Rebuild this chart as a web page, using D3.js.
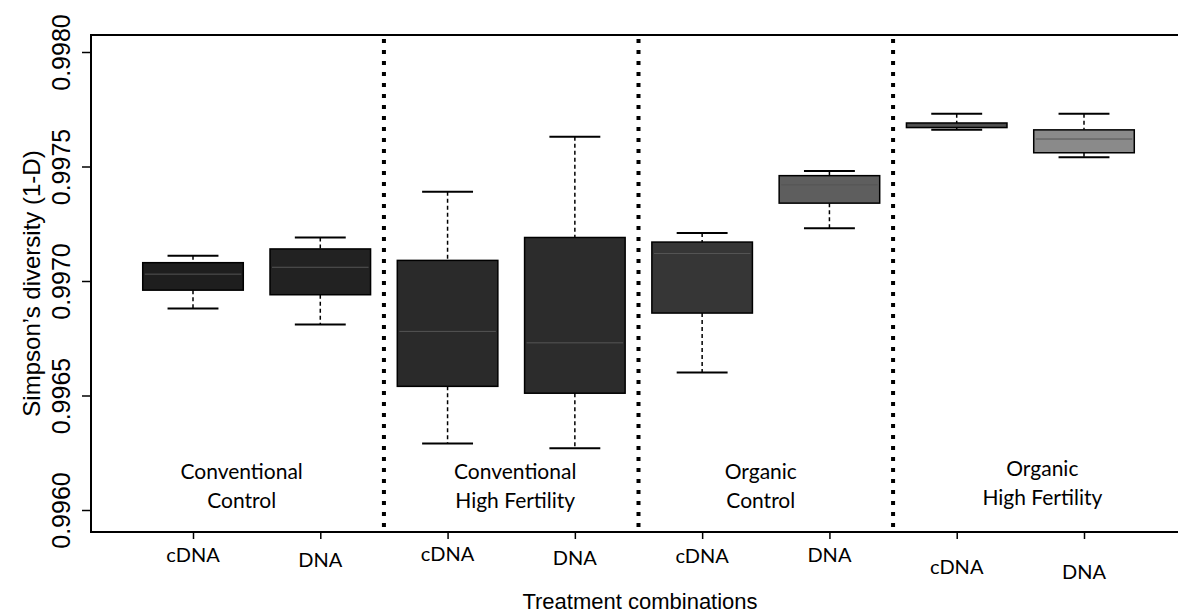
<!DOCTYPE html>
<html>
<head>
<meta charset="utf-8">
<script src="https://cdn.jsdelivr.net/npm/d3@7"></script>
<style>
    body { margin: 0; background: #fff; }
    svg { display: block; }
</style>
</head>
<body>
<script>
// Box plot of Simpson's diversity by treatment and nucleic acid type.

// ---- data ----
var categories = ["cDNA", "DNA", "cDNA", "DNA", "cDNA", "DNA", "cDNA", "DNA"];
var groupTop = ["Conventional", "Conventional", "Organic", "Organic"];
var groupBottom = ["Control", "High Fertility", "Control", "High Fertility"];

var whiskerLow  = [0.99688, 0.99681, 0.99629, 0.99627,
                   0.99660, 0.99723, 0.99766, 0.99754];
var q1          = [0.99696, 0.99694, 0.99654, 0.99651,
                   0.99686, 0.99734, 0.99767, 0.99756];
var medians     = [0.99703, 0.99706, 0.99678, 0.99673,
                   0.99712, 0.99742, 0.99768, 0.99762];
var q3          = [0.99708, 0.99714, 0.99709, 0.99719,
                   0.99717, 0.99746, 0.99769, 0.99766];
var whiskerHigh = [0.99711, 0.99719, 0.99739, 0.99763,
                   0.99721, 0.99748, 0.99773, 0.99773];

var yTicks = [0.9960, 0.9965, 0.9970, 0.9975, 0.9980];

// ---- styles / layout (not data) ----
var boxFill = ["#1e1e1e", "#222222", "#2a2a2a", "#2c2c2c",
               "#363636", "#5e5e5e", "#4a4a4a", "#8a8a8a"];
// the labels under the axis are a bit staggered in the original
var labelY = [555, 560, 554, 558, 556, 555, 567, 572];
var groupShift = [-15, 4, -5, 22];
var groupLift = [0, 0, 0, 3];

var W = 1178, H = 613;
var frame = {left: 91, top: 35, bottom: 532, right: 1178};

var svg = d3.select("body").append("svg")
    .attr("width", W)
    .attr("height", H);

var ids = categories.map(function(d, i) { return i; });

// x: one point per box
var xScale = d3.scalePoint().domain(ids).range([193, 1084]);
var step = xScale.step();
var boxW = step * 0.79;
var capW = step * 0.40;

// y: tick 0.9960 at 510px and 0.9980 at 52px
var yScale = d3.scaleLinear().domain([0.9960, 0.9980]).range([510, 52]);

// frame: left, top and bottom lines, open on the right
svg.append("path")
    .attr("d", "M" + frame.right + "," + frame.top +
               "H" + frame.left + "V" + frame.bottom +
               "H" + frame.right)
    .attr("fill", "none")
    .attr("stroke", "#000")
    .attr("stroke-width", 2);

// y axis ticks and labels (rotated like R's default)
var yAxis = d3.axisLeft(yScale)
    .tickValues(yTicks)
    .tickSize(9)
    .tickFormat(d3.format(".4f"));

var yg = svg.append("g")
    .attr("transform", "translate(" + frame.left + ",0)")
    .call(yAxis);
yg.select(".domain").remove();
yg.selectAll(".tick line").attr("stroke", "#000").attr("stroke-width", 1.5);
yg.selectAll(".tick text")
    .attr("x", null).attr("dy", null)
    .attr("transform", "translate(-21,0) rotate(-90)")
    .attr("text-anchor", "middle")
    .attr("font-family", "'Liberation Sans', Arial, sans-serif")
    .attr("font-size", "25px")
    .attr("fill", "#000");

// x axis ticks
var xAxis = d3.axisBottom(xScale).tickSize(7).tickFormat("");
var xg = svg.append("g")
    .attr("transform", "translate(0," + frame.bottom + ")")
    .call(xAxis);
xg.select(".domain").remove();
xg.selectAll(".tick line").attr("stroke", "#000").attr("stroke-width", 1.5);

// x tick labels, staggered
svg.selectAll("text.cat")
    .data(categories)
    .enter()
    .append("text")
    .attr("class", "cat")
    .attr("x", function(d, i) { return xScale(i); })
    .attr("y", function(d, i) { return labelY[i]; })
    .attr("dy", "0.35em")
    .attr("text-anchor", "middle")
    .attr("font-family", "Lato, 'Open Sans', sans-serif")
    .attr("font-size", "20px")
    .attr("fill", "#000")
    .text(function(d) { return d; });

// dotted separators between the treatment groups
[1, 3, 5].forEach(function(i) {
    var sx = (xScale(i) + xScale(i + 1)) / 2;
    svg.append("line")
        .attr("x1", sx).attr("x2", sx)
        .attr("y1", frame.top + 4).attr("y2", frame.bottom - 4)
        .attr("stroke", "#000")
        .attr("stroke-width", 4)
        .attr("stroke-dasharray", "4,7");
});

// boxes
var boxes = svg.selectAll("g.box")
    .data(ids)
    .enter()
    .append("g")
    .attr("class", "box");

// dashed whiskers
boxes.append("line")
    .attr("x1", function(i) { return xScale(i); })
    .attr("x2", function(i) { return xScale(i); })
    .attr("y1", function(i) { return yScale(whiskerHigh[i]); })
    .attr("y2", function(i) { return yScale(q3[i]); })
    .attr("stroke", "#000").attr("stroke-width", 1.5)
    .attr("stroke-dasharray", "4,3");
boxes.append("line")
    .attr("x1", function(i) { return xScale(i); })
    .attr("x2", function(i) { return xScale(i); })
    .attr("y1", function(i) { return yScale(q1[i]); })
    .attr("y2", function(i) { return yScale(whiskerLow[i]); })
    .attr("stroke", "#000").attr("stroke-width", 1.5)
    .attr("stroke-dasharray", "4,3");

// whisker caps
[whiskerHigh, whiskerLow].forEach(function(arr) {
    boxes.append("line")
        .attr("x1", function(i) { return xScale(i) - capW / 2; })
        .attr("x2", function(i) { return xScale(i) + capW / 2; })
        .attr("y1", function(i) { return yScale(arr[i]); })
        .attr("y2", function(i) { return yScale(arr[i]); })
        .attr("stroke", "#000").attr("stroke-width", 2);
});

// the box itself
boxes.append("rect")
    .attr("x", function(i) { return xScale(i) - boxW / 2; })
    .attr("width", boxW)
    .attr("y", function(i) { return yScale(q3[i]); })
    .attr("height", function(i) {
        return Math.max(2, yScale(q1[i]) - yScale(q3[i]));
    })
    .attr("fill", function(i) { return boxFill[i]; })
    .attr("stroke", "#000")
    .attr("stroke-width", 1.5);

// median, only faintly visible in the dark boxes
boxes.append("line")
    .attr("x1", function(i) { return xScale(i) - boxW / 2 + 2; })
    .attr("x2", function(i) { return xScale(i) + boxW / 2 - 2; })
    .attr("y1", function(i) { return yScale(medians[i]); })
    .attr("y2", function(i) { return yScale(medians[i]); })
    .attr("stroke", "#555")
    .attr("stroke-width", 1);

// group labels, two lines each, centred between the two boxes
groupTop.forEach(function(t, g) {
    var cx = (xScale(2 * g) + xScale(2 * g + 1)) / 2 + groupShift[g];
    var lbl = svg.append("text")
        .attr("text-anchor", "middle")
        .attr("font-family", "Lato, 'Open Sans', sans-serif")
        .attr("font-size", "21px")
        .attr("fill", "#000");
    lbl.append("tspan").attr("x", cx).attr("y", 479 - groupLift[g]).text(t);
    lbl.append("tspan").attr("x", cx).attr("y", 508 - groupLift[g])
        .text(groupBottom[g]);
});

// axis titles
svg.append("text")
    .attr("transform", "translate(40," + ((frame.top + frame.bottom) / 2) +
          ") rotate(-90)")
    .attr("text-anchor", "middle")
    .attr("font-family", "'Liberation Sans', Arial, sans-serif")
    .attr("font-size", "24px")
    .attr("fill", "#000")
    .text("Simpson\u2019s diversity (1-D)");

svg.append("text")
    .attr("x", 640)
    .attr("y", 609)
    .attr("text-anchor", "middle")
    .attr("font-family", "'Liberation Sans', Arial, sans-serif")
    .attr("font-size", "22px")
    .attr("fill", "#000")
    .text("Treatment combinations");
</script>
</body>
</html>
